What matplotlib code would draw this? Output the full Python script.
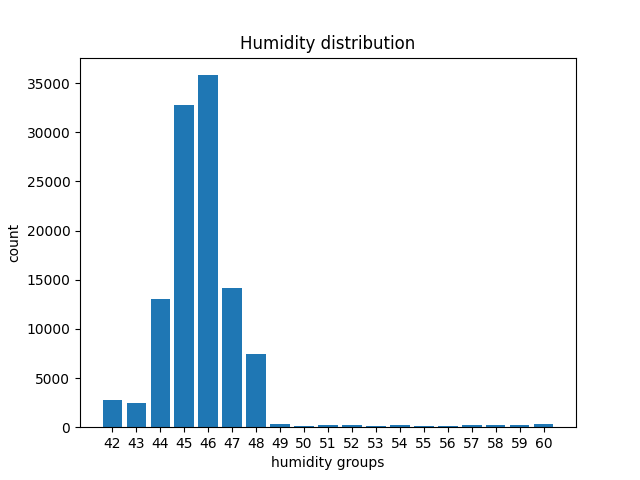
import matplotlib.pyplot as plt

groups = [str(g) for g in range(42, 61)]
counts = [2750, 2450, 13000, 32750, 35800, 14150, 7400,
          300, 100, 200, 200, 100, 200, 100, 100, 200, 200, 200, 300]

fig, ax = plt.subplots(figsize=(6.4, 4.8), dpi=100)
ax.bar(groups, counts)
ax.set_title("Humidity distribution")
ax.set_xlabel("humidity groups")
ax.set_ylabel("count")
fig.savefig("out.png")
